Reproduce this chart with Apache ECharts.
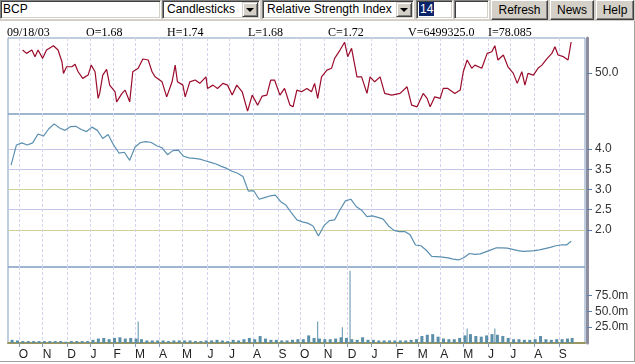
<!DOCTYPE html>
<html><head><meta charset="utf-8">
<script src="https://cdn.jsdelivr.net/npm/echarts@6/dist/echarts.min.js"></script>
<style>
body{margin:0;background:#fff}
#wrap{position:relative;width:635px;height:364px;overflow:hidden;background:#fff}
#chart{position:absolute;left:0;top:0;width:635px;height:364px}
#tb{position:absolute;left:0;top:0;width:635px;height:21px;background:#d4d0c8}
.inp,.sel{position:absolute;top:0;height:19px;box-sizing:border-box;background:#fff;border:1px solid;border-color:#808080 #fff #fff #808080;box-shadow:inset 1px 1px 0 #404040,inset -1px -1px 0 #d4d0c8;font:12px 'Liberation Sans',Arial,sans-serif;line-height:17px;padding-left:2px;color:#000;overflow:hidden;white-space:nowrap}
.sel{padding-left:4px}
.sel i{position:absolute;right:1px;top:1px;width:16px;height:15px;box-sizing:border-box;background:#d4d0c8;border:1px solid;border-color:#d4d0c8 #404040 #404040 #d4d0c8;box-shadow:inset 1px 1px 0 #fff,inset -1px -1px 0 #808080}
.sel i:after{content:'';position:absolute;left:3px;top:5px;border-left:4px solid transparent;border-right:4px solid transparent;border-top:4px solid #000}
.btn{position:absolute;top:0;height:20px;box-sizing:border-box;background:#d4d0c8;border:1px solid;border-color:#fff #404040 #404040 #fff;box-shadow:inset -1px -1px 0 #808080;font:12px 'Liberation Sans',Arial,sans-serif;line-height:18px;text-align:center;color:#000}
.hl{background:#0a246a;color:#fff;padding:0 1px}
.info{position:absolute;top:26px;font:12px 'Liberation Serif','Times New Roman',serif;line-height:12px;color:#000;white-space:nowrap}
#frame{position:absolute;left:0;top:21px;width:634px;height:340px;border-right:1px solid #a0a0a0;border-bottom:1px solid #a0a0a0;pointer-events:none}
</style></head>
<body>
<div id="wrap">
<div id="chart"></div>
<div id="frame"></div>
<div id="tb">
  <div class="inp" style="left:0;width:161px">BCP</div>
  <div class="sel" style="left:162px;width:98px">Candlesticks<i></i></div>
  <div class="sel" style="left:262px;width:152px">Relative Strength Index<i></i></div>
  <div class="inp" style="left:416px;width:37px"><span class="hl">14</span></div>
  <div class="inp" style="left:454px;width:35px"></div>
  <div class="btn" style="left:491px;width:57px">Refresh</div>
  <div class="btn" style="left:550px;width:44px">News</div>
  <div class="btn" style="left:596px;width:38px">Help</div>
</div>
<div class="info" style="left:7px">09/18/03</div>
<div class="info" style="left:86px">O=1.68</div>
<div class="info" style="left:167px">H=1.74</div>
<div class="info" style="left:248px">L=1.68</div>
<div class="info" style="left:328px">C=1.72</div>
<div class="info" style="left:408px">V=6499325.0</div>
<div class="info" style="left:488px">I=78.085</div>
</div>
<script>
// ---- data ----
const weekDates = ['2001-09-21','2001-09-28','2001-10-05','2001-10-12','2001-10-19','2001-10-26','2001-11-02','2001-11-09','2001-11-16','2001-11-23','2001-11-30','2001-12-07','2001-12-14','2001-12-21','2001-12-28',
'2002-01-04','2002-01-11','2002-01-18','2002-01-25','2002-02-01','2002-02-08','2002-02-15','2002-02-22','2002-03-01','2002-03-08','2002-03-15','2002-03-22','2002-03-29','2002-04-05','2002-04-12','2002-04-19','2002-04-26','2002-05-03','2002-05-10','2002-05-17','2002-05-24','2002-05-31','2002-06-07','2002-06-14','2002-06-21','2002-06-28','2002-07-05','2002-07-12','2002-07-19','2002-07-26','2002-08-02','2002-08-09','2002-08-16','2002-08-23','2002-08-30','2002-09-06','2002-09-13','2002-09-20','2002-09-27','2002-10-04','2002-10-11','2002-10-18','2002-10-25','2002-11-01','2002-11-08','2002-11-15','2002-11-22','2002-11-29','2002-12-06','2002-12-13','2002-12-20','2002-12-27',
'2003-01-03','2003-01-10','2003-01-17','2003-01-24','2003-01-31','2003-02-07','2003-02-14','2003-02-21','2003-02-28','2003-03-07','2003-03-14','2003-03-21','2003-03-28','2003-04-04','2003-04-11','2003-04-18','2003-04-25','2003-05-02','2003-05-09','2003-05-16','2003-05-23','2003-05-30','2003-06-06','2003-06-13','2003-06-20','2003-06-27','2003-07-04','2003-07-11','2003-07-18','2003-07-25','2003-08-01','2003-08-08','2003-08-15','2003-08-22','2003-08-29','2003-09-05','2003-09-12','2003-09-18'];

const closePrice = [3.6,4.1,4.15,4.1,4.15,4.37,4.32,4.5,4.62,4.52,4.46,4.55,4.56,4.48,4.43,
4.54,4.46,4.26,4.36,4.1,3.9,3.92,3.72,4.05,4.16,4.18,4.16,4.08,4.03,3.86,
3.96,3.97,3.82,3.78,3.77,3.75,3.71,3.67,3.63,3.57,3.52,3.45,3.4,3.32,2.96,
2.97,2.76,2.8,2.84,2.86,2.7,2.61,2.42,2.25,2.2,2.17,2.1,1.85,2.1,2.23,
2.25,2.5,2.72,2.76,2.58,2.49,2.33,2.35,2.31,2.27,2.1,1.99,1.96,1.96,1.88,
1.63,1.61,1.5,1.35,1.34,1.33,1.31,1.28,1.26,1.32,1.42,1.4,1.41,1.46,1.51,
1.56,1.56,1.55,1.52,1.49,1.47,1.48,1.49,1.51,1.54,1.57,1.61,1.63,1.63,1.72];

// typical daily volume per week, millions
const weekVolume = [5,4,3,3,3,3,3,3,3,3,2,3,3,3,3,
5,7,8,6,8,9,7,8,7,6,4,4,4,4,3,
4,4,4,4,3,3,4,4,5,4,3,5,4,6,8,
6,11,7,5,5,4,4,5,6,6,12,8,7,6,6,
7,9,8,6,5,9,5,5,4,4,4,4,4,4,5,
6,11,13,14,10,7,6,6,8,12,14,11,10,12,14,
13,11,8,6,6,5,5,6,11,6,5,6,6,7,8];

const spikeDates = ['2002-03-05','2002-10-24','2002-11-25','2002-12-05','2003-05-06','2003-06-11'];
const spikeVolume = [34,34,25,114,23,23];

const rsiDates = ['2001-10-06','2001-10-11','2001-10-18','2001-10-22','2001-10-26','2001-11-01','2001-11-06','2001-11-15','2001-11-21','2001-11-26','2001-11-28','2001-12-02','2001-12-09','2001-12-13','2001-12-17','2001-12-23','2001-12-30',
'2002-01-03','2002-01-08','2002-01-12','2002-01-14','2002-01-18','2002-01-23','2002-01-27','2002-02-03','2002-02-05','2002-02-12','2002-02-16','2002-02-22','2002-02-26','2002-03-05','2002-03-11','2002-03-18','2002-03-23','2002-03-27','2002-04-05','2002-04-11','2002-04-18','2002-04-22','2002-04-25','2002-05-02','2002-05-05','2002-05-11','2002-05-18','2002-05-24','2002-06-01','2002-06-03','2002-06-10','2002-06-16','2002-06-23','2002-06-29','2002-07-05','2002-07-11','2002-07-18','2002-07-25','2002-07-31','2002-08-07','2002-08-13','2002-08-19','2002-08-24','2002-08-29','2002-09-05','2002-09-11','2002-09-18','2002-09-22','2002-09-27','2002-10-03','2002-10-10','2002-10-16','2002-10-20','2002-10-24','2002-10-29','2002-11-05','2002-11-11','2002-11-15','2002-11-22','2002-11-28','2002-12-02','2002-12-07','2002-12-14','2002-12-20','2002-12-27','2002-12-31',
'2003-01-06','2003-01-13','2003-01-19','2003-01-28','2003-02-08','2003-02-17','2003-02-23','2003-03-02','2003-03-10','2003-03-15','2003-03-19','2003-03-25','2003-04-01','2003-04-05','2003-04-11','2003-04-20','2003-04-27','2003-05-01','2003-05-06','2003-05-12','2003-05-16','2003-05-25','2003-06-01','2003-06-07','2003-06-11','2003-06-15','2003-06-22','2003-06-28','2003-07-05','2003-07-10','2003-07-16','2003-07-20','2003-07-24','2003-07-31','2003-08-06','2003-08-11','2003-08-18','2003-08-24','2003-08-28','2003-09-01','2003-09-08','2003-09-14','2003-09-18'];
const rsiValues = [70.8,67.8,70.8,64.8,70.8,63.3,70.8,74.7,70.8,60.2,49.7,55.7,55.7,57.9,51.2,45.2,48.2,
57.2,51.2,27.1,31.6,48.2,53.3,39.1,33.1,24,31.6,34.6,24,51.2,54.3,62.7,61.8,51.2,46.6,42.1,28.5,42.1,57.2,42.1,39.1,28.5,42.1,43.7,40.7,46.6,36.1,39.1,36.1,40.7,39.1,30.1,39.1,33.1,15.6,30.1,21,29.2,30.1,43.7,43.7,30.1,36.1,21,19.5,34.6,33.1,36.1,33.1,40.7,27.1,46.6,52.7,54.3,63.3,70.8,77.8,64.8,72.4,46.6,46.6,31.6,46.6,
42.1,46.6,31.6,30.1,31.6,37.6,21,19.5,31.6,27.1,19.5,28.5,27.1,36.1,36.1,31.6,34.6,51.2,61.8,54.3,57.2,54.3,67.8,69.3,74.7,61.8,66.3,55.7,49.7,40.7,51.2,39.1,49.7,48.2,54.3,57.2,63.3,67.8,73.8,66.3,64.8,61.8,78.085];

const monthTicks = ['2001-10-01','2001-11-01','2001-12-03','2002-01-02','2002-02-01','2002-03-01','2002-04-01','2002-05-01','2002-06-03','2002-07-01','2002-08-01','2002-09-03','2002-10-01','2002-11-01','2002-12-02','2003-01-02','2003-02-03','2003-03-03','2003-04-01','2003-05-01','2003-06-02','2003-07-01','2003-08-01','2003-09-02'];
const monthLetters = 'JFMAMJJASOND';
const rsiTicks = [50];
const priceTicks = [2.0,2.5,3.0,3.5,4.0];
const volumeTicks = [25,50,75];

// ---- chart ----
function ts(s){ const p = s.split('-').map(Number); return new Date(p[0], p[1]-1, p[2]).getTime(); }
const FONT = "'Liberation Sans', Arial, sans-serif";
const xMin = ts('2001-09-17');
const xMax = ts('2003-10-06');
const monthTickTs = monthTicks.map(ts);
function xAxis(gi, bottom){
  return {
    type:'value', gridIndex:gi, min:xMin, max:xMax, scale:true,
    axisLine:{show:bottom, onZero:false, lineStyle:{color:'#9a9660', width:2}},
    axisTick:{show:bottom, customValues:monthTickTs, length:4, lineStyle:{color:'#7f9dbf'}},
    axisLabel:{show:bottom, customValues:monthTickTs, align:'left', margin:6, color:'#222', fontSize:12, fontFamily:FONT,
      formatter:v=>monthLetters.charAt(new Date(v).getMonth())},
    splitLine:{show:true, lineStyle:{color:'#d4d4ee', type:[3,2], width:1}}
  };
}
function yAxis(gi, min, max, ticks, fmt, split){
  return {
    type:'value', gridIndex:gi, position:'right', min:min, max:max, offset:2,
    axisLine:{show:true, onZero:false, lineStyle:{color:'#8e8e9e', width:3}},
    axisTick:{show:true, customValues:ticks, length:5, lineStyle:{color:'#5d7fa8'}},
    axisLabel:{customValues:ticks, formatter:fmt, margin:8, color:'#333', fontSize:12, fontFamily:FONT},
    splitLine:{show:split, lineStyle:{color:['#cfcf98','#c4c4e6','#cfcf98','#c4c4e6','#c4c4e6'], type:'solid', width:1}}
  };
}
const gridBase = {left:8, right:50, show:true, borderColor:'#7f9dbf', borderWidth:1, backgroundColor:'rgba(0,0,0,0)', containLabel:false, outerBoundsMode:'none'};
const chart = echarts.init(document.getElementById('chart'), null, {renderer:'canvas'});
chart.setOption({
  animation:false,
  backgroundColor:'#fff',
  grid:[
    Object.assign({top:38, height:76}, gridBase),
    Object.assign({top:114, height:153}, gridBase),
    Object.assign({top:267, height:76}, gridBase)
  ],
  xAxis:[xAxis(0,false), xAxis(1,false), xAxis(2,true)],
  yAxis:[
    yAxis(0, 13, 81.7, rsiTicks, v=>v.toFixed(1), false),
    yAxis(1, 1.086, 4.864, priceTicks, v=>v.toFixed(1), true),
    yAxis(2, 0, 120, volumeTicks, v=>v.toFixed(1)+'m', false)
  ],
  series:[
    {type:'line', name:'RSI', xAxisIndex:0, yAxisIndex:0, showSymbol:false,
     data:rsiDates.map((d,i)=>[ts(d), rsiValues[i]]), lineStyle:{color:'#9a0b2c', width:1.2}, itemStyle:{color:'#9a0b2c'}},
    {type:'line', name:'Price', xAxisIndex:1, yAxisIndex:1, showSymbol:false, z:3,
     data:weekDates.map((d,i)=>[ts(d), closePrice[i]]), lineStyle:{color:'#5b8fb0', width:1.2}, itemStyle:{color:'#5b8fb0'}},
    {type:'bar', name:'Volume', xAxisIndex:2, yAxisIndex:2, barWidth:3, barGap:'-100%',
     data:weekDates.map((d,i)=>[ts(d), weekVolume[i]]), itemStyle:{color:'#5b8fa8'}},
    {type:'bar', name:'VolumeSpike', xAxisIndex:2, yAxisIndex:2, barWidth:1, barGap:'-100%',
     data:spikeDates.map((d,i)=>[ts(d), spikeVolume[i]]), itemStyle:{color:'#5b8fa8'}}
  ]
});
</script>
</body></html>
